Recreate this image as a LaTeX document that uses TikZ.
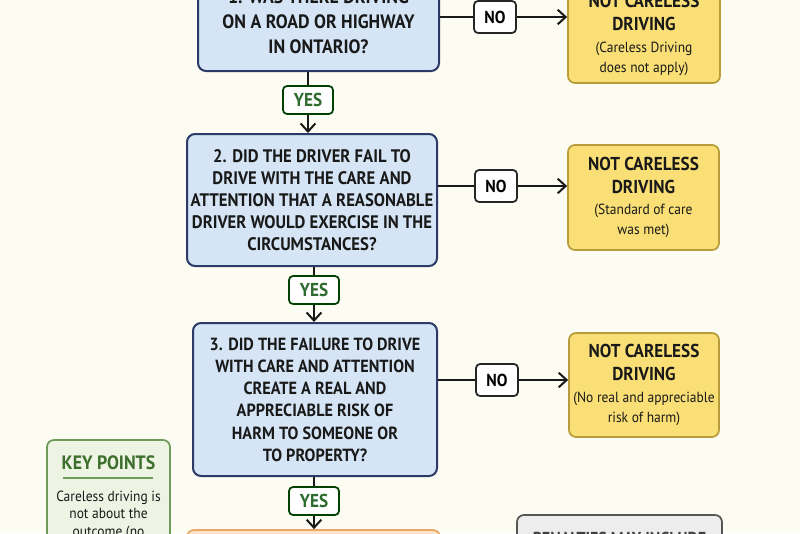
\documentclass[tikz,border=0pt]{standalone}
\usepackage{fontspec}
\setmainfont{PT Sans}[FakeStretch=0.92]
\usetikzlibrary{arrows.meta}
\newdimen\px \px=0.75pt
\definecolor{bg}{HTML}{FDFCF2}
\definecolor{qfill}{HTML}{D5E5F5}
\definecolor{qdraw}{HTML}{2B3A67}
\definecolor{yfill}{HTML}{F9DF75}
\definecolor{ydraw}{HTML}{B89B3A}
\definecolor{yesgreen}{HTML}{2E6B2E}
\definecolor{kfill}{HTML}{EEF4E4}
\definecolor{kdraw}{HTML}{6E9A5A}
\definecolor{ktext}{HTML}{3C6E2C}
\definecolor{gfill}{HTML}{EDEDED}
\definecolor{gdraw}{HTML}{555555}
\definecolor{ofill}{HTML}{FCE3C6}
\definecolor{odraw}{HTML}{E9A868}
\tikzset{
  qbox/.style={draw=qdraw, fill=qfill, line width=1.5pt, rounded corners=8\px, align=center, inner sep=0pt, text=black!90},
  rbox/.style={draw=ydraw, fill=yfill, line width=1.3pt, rounded corners=7\px, align=center, inner sep=0pt, text=black!90,
     font=\fontsize{14pt}{15pt}\selectfont},
  lab/.style={draw=black!85, fill=white, line width=1.3pt, rounded corners=4\px, minimum width=42\px, minimum height=32\px, inner sep=0pt,
     font=\bfseries\fontsize{13pt}{15pt}\selectfont},
  yeslab/.style={lab, text=yesgreen, draw=black!75!green, minimum width=50\px, minimum height=28\px, font=\bfseries\fontsize{14pt}{15pt}\selectfont},
  conn/.style={draw=black!90, line width=1.4pt},
  arr/.style={conn, -{Straight Barb[length=6pt,width=11pt,line width=1.5pt]}},
}
\newcommand{\subtxt}[1]{{\mdseries\fontsize{11pt}{15pt}\selectfont #1}}
\begin{document}
\begin{tikzpicture}[x=0.75pt,y=-0.75pt]
\useasboundingbox (0,0) rectangle (800,533);
\fill[bg] (0,0) rectangle (800,533);
\begin{scope}
\clip (0,0) rectangle (800,533);
% question boxes
\node[qbox, minimum width=241\px, minimum height=98\px, font=\bfseries\fontsize{14.5pt}{18.75pt}\selectfont]
  (b1) at (318.5,22) {1. WAS THERE DRIVING\\ON A ROAD OR HIGHWAY\\IN ONTARIO?};
\node[qbox, minimum width=250\px, minimum height=132\px, font=\bfseries\fontsize{13.6pt}{16.5pt}\selectfont]
  (b2) at (312,200) {2. DID THE DRIVER FAIL TO\\DRIVE WITH THE CARE AND\\ATTENTION THAT A REASONABLE\\DRIVER WOULD EXERCISE IN THE\\CIRCUMSTANCES?};
\node[qbox, minimum width=244\px, minimum height=153\px, font=\bfseries\fontsize{13.2pt}{16.7pt}\selectfont]
  (b3) at (315,399.5) {3. DID THE FAILURE TO DRIVE\\WITH CARE AND ATTENTION\\CREATE A REAL AND\\APPRECIABLE RISK OF\\HARM TO SOMEONE OR\\TO PROPERTY?};
% result boxes
\node[rbox, minimum width=152\px, minimum height=96\px] (y1) at (644,35)
  {\textbf{NOT CARELESS}\\[2.2pt]\textbf{DRIVING}\\[1pt]\subtxt{(Careless Driving}\\\subtxt{does not apply)}};
\node[rbox, minimum width=151\px, minimum height=105\px] (y2) at (643.5,197.5)
  {\textbf{NOT CARELESS}\\[2.2pt]\textbf{DRIVING}\\[1pt]\subtxt{(Standard of care}\\\subtxt{was met)}};
\node[rbox, minimum width=150\px, minimum height=104\px] (y3) at (644,385)
  {\textbf{NOT CARELESS}\\[2.2pt]\textbf{DRIVING}\\[1pt]\subtxt{(No real and appreciable}\\\subtxt{risk of harm)}};
% NO labels
\node[lab] (no1) at (495,17) {NO};
\node[lab] (no2) at (496,186) {NO};
\node[lab] (no3) at (497,380) {NO};
% YES labels
\node[yeslab] (yes1) at (308,100) {YES};
\node[yeslab] (yes2) at (314,290) {YES};
\node[yeslab] (yes3) at (314,501) {YES};
% bottom boxes
\node[draw=odraw, fill=ofill, line width=1.3pt, rounded corners=7\px, minimum width=253\px, minimum height=80\px] (ob) at (313.5,570) {};
\node[draw=gdraw, fill=gfill, line width=1.3pt, rounded corners=7\px, minimum width=205\px, minimum height=80\px] (gb) at (619.5,555) {};
\node[text=black!75, font=\bfseries\fontsize{13pt}{16pt}\selectfont] (gt) at (619.5,538) {PENALTIES MAY INCLUDE};
% key points
\node[draw=kdraw, fill=kfill, line width=1.3pt, rounded corners=7\px, minimum width=123\px, minimum height=200\px] (kp) at (108.5,540) {};
\node[text=ktext, font=\bfseries\fontsize{14.5pt}{17pt}\selectfont] (kt) at (108.5,463) {KEY POINTS};
\coordinate (kl) at (63,478);
\coordinate (kr) at (153,478);
\draw[draw=kdraw, line width=1.2pt] (kl) -- (kr);
\node[align=center, text=black!90, font=\fontsize{11pt}{13.1pt}\selectfont, anchor=north] (kb) at (108.5,486)
  {Careless driving is\\not about the\\outcome (no};
% connectors
\draw[conn] (b1.east |- no1) -- (no1.west);
\draw[arr] (no1.east) -- (no1.east -| y1.west);
\draw[conn] (b2.east |- no2) -- (no2.west);
\draw[arr] (no2.east) -- (no2.east -| y2.west);
\draw[conn] (b3.east |- no3) -- (no3.west);
\draw[arr] (no3.east) -- (no3.east -| y3.west);
\draw[conn] (yes1.north |- b1.south) -- (yes1.north);
\draw[arr] (yes1.south) -- (yes1.south |- b2.north);
\draw[conn] (yes2.north |- b2.south) -- (yes2.north);
\draw[arr] (yes2.south) -- (yes2.south |- b3.north);
\draw[conn] (yes3.north |- b3.south) -- (yes3.north);
\draw[arr] (yes3.south) -- (yes3.south |- ob.north);
\end{scope}
\end{tikzpicture}
\end{document}
